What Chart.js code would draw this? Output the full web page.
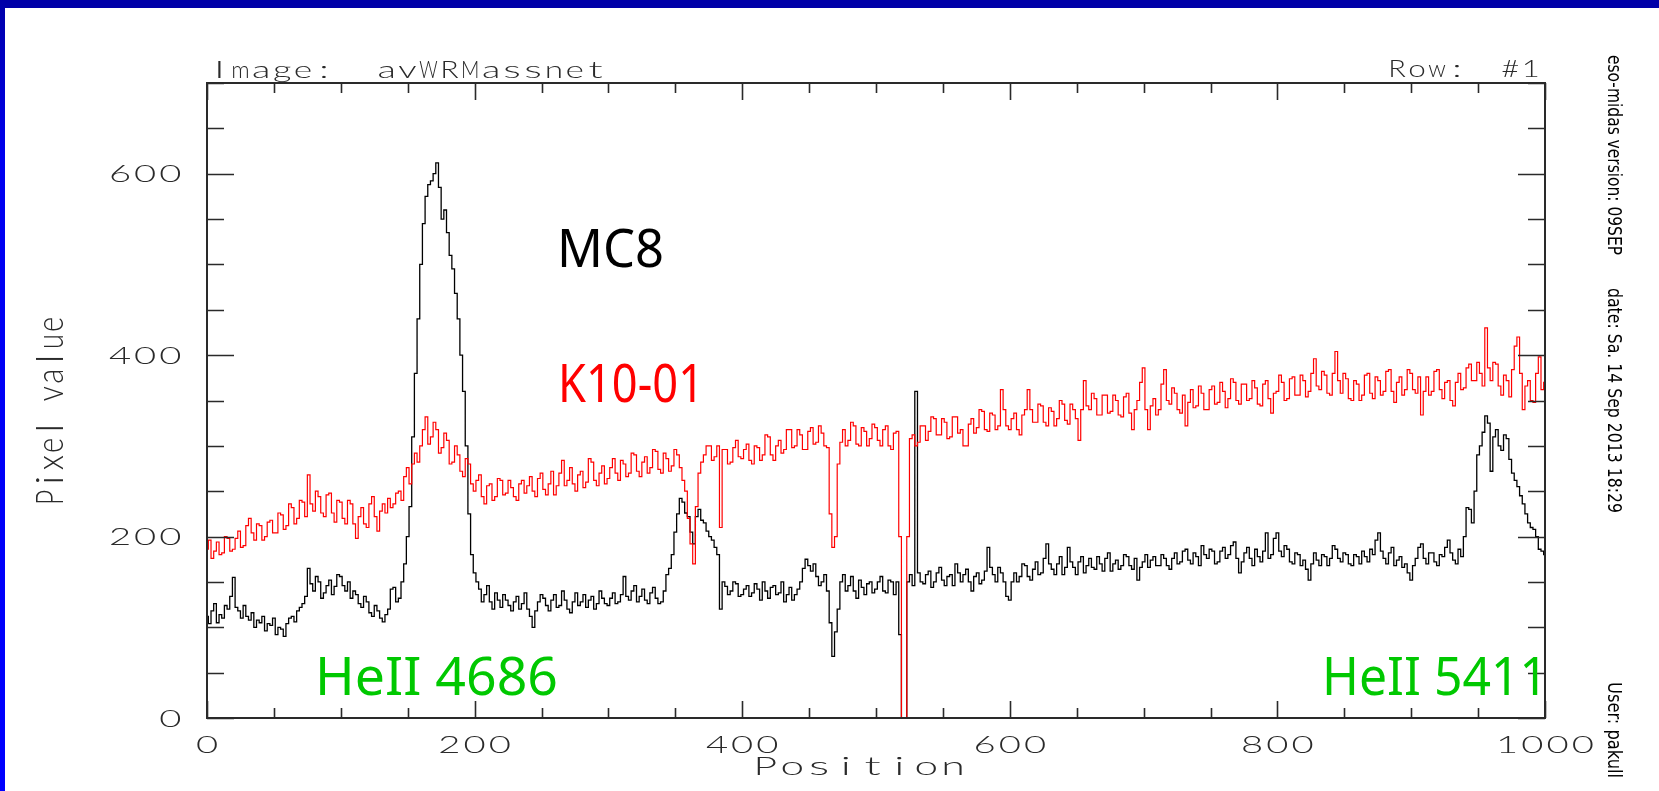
<!DOCTYPE html>
<html>
<head>
<meta charset="utf-8">
<title>avWRMassnet</title>
<script src="https://cdn.jsdelivr.net/npm/chart.js@4.4.1/dist/chart.umd.min.js"></script>
<style>
html, body { margin: 0; padding: 0; background: #fff; }
#wrap { position: relative; width: 1659px; height: 791px; overflow: hidden; background: #fff; }
#wrap canvas { position: absolute; left: 0; top: 0; }
#topband { position: absolute; left: 0; top: 0; width: 1659px; height: 8px; background: #0000a8; z-index: 2; }
#leftband { position: absolute; left: 0; top: 0; width: 5px; height: 791px; background: linear-gradient(#0000a8, #0000f0 20%, #0000ff); z-index: 2; }
</style>
</head>
<body>
<div id="wrap">
  <div id="topband"></div>
  <div id="leftband"></div>
  <canvas id="spectrum" width="1659" height="791"></canvas>
</div>
<script>
'use strict';

// one sample every 2 pixels along the row
var positionStep = 2;

var mc8Values = [
    112,104,118,126,105,114,110,124,120,134, 155,122,118,110,124,112,108,116,100,108, 105,112,96,104,102,110,92,100,98,90, 104,110,112,106,118,122,126,134,165,148, 140,156,150,132,138,146,152,136,145,158,
    156,146,140,150,132,140,136,126,122,134, 128,116,112,124,118,110,106,114,120,142, 144,128,132,150,170,200,233,310,380,440, 500,545,575,588,592,600,612,585,550,560, 535,510,495,468,440,400,360,300,225,180,
    160,150,142,128,136,146,128,120,138,130, 122,136,130,124,118,128,134,120,126,138, 120,112,100,118,128,136,132,124,118,130, 136,122,124,140,130,120,116,128,138,124, 128,136,122,130,134,120,126,140,132,126,
    124,132,138,126,128,136,156,134,130,140, 146,128,134,142,130,126,138,144,132,126, 128,140,158,165,180,205,225,242,238,226, 222,205,192,222,230,218,215,206,200,196, 188,180,120,150,145,136,140,150,148,134,
    136,142,146,134,138,148,142,130,150,140, 132,144,146,136,138,150,128,136,144,130, 136,142,150,165,175,168,162,170,156,146, 150,158,140,105,68,95,120,150,158,140, 146,156,140,132,152,144,136,148,150,138,
    142,150,156,140,138,152,150,136,150,92, 0,0,150,158,146,360,160,150,148,158, 162,144,150,160,166,152,146,156,158,146, 170,160,150,158,164,150,140,156,160,148, 152,162,188,166,158,150,166,160,150,134,
    130,150,160,150,156,170,168,156,152,164, 172,158,160,176,192,170,164,158,170,178, 158,166,188,172,166,158,172,178,160,168, 176,166,164,178,170,162,176,182,162,170, 174,164,168,180,178,168,164,176,152,166,
    172,180,166,174,178,168,168,180,176,168, 164,176,182,170,172,184,186,174,170,182, 178,168,190,180,176,186,184,170,172,184, 188,176,180,190,194,176,160,172,182,188, 176,168,186,178,172,184,204,176,180,198,
    204,184,178,190,186,172,170,182,180,168, 174,164,152,170,182,174,168,180,178,168, 176,190,186,176,172,182,180,170,168,180, 178,170,184,178,172,186,180,196,204,184, 176,170,182,188,168,174,178,166,170,160,
    152,168,176,188,192,176,170,182,182,172, 168,180,178,188,196,182,174,170,186,178, 200,232,230,215,250,290,300,315,333,325, 272,310,318,300,295,312,308,285,270,262, 255,245,236,225,215,210,208,200,186,184,
    180
];

var k1001Values = [
    186,196,176,184,194,180,182,200,198,184, 186,198,206,188,190,212,220,204,196,214, 212,196,200,216,218,204,204,226,224,208, 212,236,232,214,220,240,238,222,268,236, 228,250,244,226,222,246,248,226,216,240,
    238,220,214,240,236,214,198,222,232,214, 210,236,244,222,206,228,236,226,242,232, 236,248,250,240,266,276,258,280,292,282, 300,318,332,302,310,326,318,292,298,314, 306,280,282,300,290,272,266,286,280,258,
    250,262,268,244,236,256,258,240,244,264, 262,246,248,262,254,244,240,258,262,248, 256,266,250,244,264,270,252,246,258,272, 246,256,270,284,256,262,276,258,250,268, 272,254,260,286,282,262,256,270,278,258,
    264,276,286,270,262,284,280,266,270,292, 290,272,266,282,288,270,276,296,294,274, 270,292,286,272,278,296,290,276,262,250, 220,192,170,233,270,282,290,300,300,284, 288,300,210,296,296,280,282,298,306,288,
    286,296,302,284,280,300,298,284,290,312, 310,290,284,300,306,292,296,318,318,298, 300,318,312,296,296,316,320,302,304,322, 314,300,298,225,188,200,280,304,318,300, 306,326,322,302,300,320,316,300,308,324,
    320,306,300,318,322,300,296,314,316,200, -40,-40,200,308,312,300,304,322,322,306, 316,332,330,312,312,330,326,308,310,332, 332,314,318,300,300,324,330,314,320,340, 338,318,316,336,334,318,322,362,340,322,
    318,330,336,318,312,334,340,362,340,326, 326,346,344,326,322,342,338,322,330,350, 346,328,324,346,340,330,306,340,372,344, 340,358,352,334,334,356,356,336,338,356, 350,334,332,354,358,336,318,340,350,370,
    386,340,318,344,352,334,340,368,384,350, 346,364,358,340,336,356,322,348,362,342, 344,366,358,340,340,362,366,346,348,370, 360,342,352,374,370,350,346,368,368,350, 352,372,364,346,344,368,372,352,336,358,
    360,378,370,350,352,374,376,356,356,378, 372,354,360,380,396,366,362,382,378,358, 356,380,404,372,358,380,374,352,350,372, 368,350,356,378,380,358,352,376,372,356, 360,382,384,360,348,370,376,356,362,384,
    380,362,358,376,334,360,376,356,360,382, 384,362,352,370,372,350,344,370,380,362, 364,386,390,372,372,392,380,366,430,386, 372,392,390,366,356,378,372,354,384,410, 420,380,340,366,372,350,348,380,398,362,
    370
];

var xTickLabels = ['0', '200', '400', '600', '800', '1000'];
var yTickLabels = ['0', '200', '400', '600'];
var minorStep = 50;
var majorStep = 200;

var positions = [];
for (var p = 0; p <= 1000; p += positionStep) {
    positions.push(p);
}

function toPoints(values) {
    return values.map(function (v, i) {
        return { x: positions[i], y: v };
    });
}

// thin, wide lettering in the style of the MIDAS plot font
function midasText(ctx, str, x, y, cap, adv, sx, angle) {
    ctx.save();
    ctx.font = '300 ' + (cap / 0.72).toFixed(1) + 'px Lato';
    ctx.fillStyle = '#2a2a2a';
    ctx.textBaseline = 'alphabetic';
    ctx.translate(x, y);
    if (angle) ctx.rotate(angle);
    for (var i = 0; i < str.length; i++) {
        var ch = str[i];
        if (ch === ' ') continue;
        var w = ctx.measureText(ch).width;
        // keep wide capitals inside their cell
        var s = Math.min(sx, adv * 0.88 / w);
        ctx.save();
        ctx.translate(i * adv + adv / 2, 0);
        ctx.scale(s, 1);
        ctx.fillText(ch, -w / 2, 0);
        ctx.restore();
    }
    ctx.restore();
}

function fitText(ctx, str, x, y, font, width, color, angle) {
    ctx.save();
    ctx.font = font;
    ctx.fillStyle = color;
    ctx.textBaseline = 'alphabetic';
    ctx.translate(x, y);
    if (angle) ctx.rotate(angle);
    var w = ctx.measureText(str).width;
    ctx.scale(width / w, 1);
    ctx.fillText(str, 0, 0);
    ctx.restore();
}

var midasFrame = {
    id: 'midasFrame',
    afterDraw: function (chart) {
        var ctx = chart.ctx;
        var a = chart.chartArea;
        var xs = chart.scales.x;
        var ys = chart.scales.y;
        var v, px, py, len;

        ctx.save();
        ctx.strokeStyle = '#2a2a2a';
        ctx.lineWidth = 2;
        ctx.strokeRect(a.left, a.top, a.right - a.left, a.bottom - a.top);

        ctx.lineWidth = 1.6;
        ctx.beginPath();
        for (v = xs.min; v <= xs.max; v += minorStep) {
            px = Math.round(xs.getPixelForValue(v)) + 0.5;
            len = v % majorStep === 0 ? 17 : 10;
            ctx.moveTo(px, a.bottom);
            ctx.lineTo(px, a.bottom - len);
            ctx.moveTo(px, a.top);
            ctx.lineTo(px, a.top + len);
        }
        for (v = ys.min; v <= ys.max; v += minorStep) {
            py = Math.round(ys.getPixelForValue(v)) + 0.5;
            len = v % majorStep === 0 ? 27 : 17;
            ctx.moveTo(a.left, py);
            ctx.lineTo(a.left + len, py);
            ctx.moveTo(a.right, py);
            ctx.lineTo(a.right - len, py);
        }
        ctx.stroke();
        ctx.restore();

        // tick labels
        xTickLabels.forEach(function (lab) {
            var x = xs.getPixelForValue(Number(lab));
            midasText(ctx, lab, x - lab.length * 25.2 / 2, a.bottom + 35, 17, 25.2, 1.85, 0);
        });
        yTickLabels.forEach(function (lab) {
            var y = ys.getPixelForValue(Number(lab));
            midasText(ctx, lab, a.left - 24 - lab.length * 25.2, y + 8.5, 17, 25.2, 1.85, 0);
        });

        // axis titles and header
        midasText(ctx, 'Position', 752, 775, 18, 26.8, 1.9, 0);
        midasText(ctx, 'Pixel value', 63, 506, 27, 17.3, 1.1, -Math.PI / 2);
        midasText(ctx, 'Image:  avWRMassnet', 209, 78, 17, 20.9, 1.75, 0);
        midasText(ctx, 'Row:', 1387, 77, 17, 20, 1.75, 0);
        midasText(ctx, '#1', 1500, 77, 17, 20.5, 1.6, 0);

        // plot stamp on the right margin
        var stamp = '"Liberation Sans Narrow", "DejaVu Sans Condensed", sans-serif';
        fitText(ctx, 'eso-midas version: 09SEP', 1608, 55, '19px ' + stamp, 200, '#000', Math.PI / 2);
        fitText(ctx, 'date: Sa. 14 Sep 2013 18:29', 1608, 288, '19px ' + stamp, 225, '#000', Math.PI / 2);
        fitText(ctx, 'User: pakull', 1608, 682, '19px ' + stamp, 96, '#000', Math.PI / 2);

        // labels pasted on the slide
        var hand = '52px "Noto Sans", sans-serif';
        fitText(ctx, 'MC8', 557, 267, hand, 107, '#000', 0);
        fitText(ctx, 'K10-01', 558, 402, hand, 146, '#ff0000', 0);
        fitText(ctx, 'HeII 4686', 315, 695, hand, 243, '#00c800', 0);
        fitText(ctx, 'HeII 5411', 1322, 695, hand, 226, '#00c800', 0);
    }
};

var ctx = document.getElementById('spectrum');
var spectrumChart = new Chart(ctx, {
    type: 'line',
    data: {
        datasets: [{
            label: 'K10-01',
            data: toPoints(k1001Values),
            borderColor: '#ff0000',
            borderWidth: 1.2,
            pointRadius: 0,
            stepped: 'middle',
            fill: false
        }, {
            label: 'MC8',
            data: toPoints(mc8Values),
            borderColor: '#000000',
            borderWidth: 1.3,
            pointRadius: 0,
            stepped: 'middle',
            fill: false
        }]
    },
    options: {
        responsive: false,
        animation: false,
        devicePixelRatio: 1,
        layout: {
            padding: { left: 207, top: 83, right: 114, bottom: 73 }
        },
        plugins: {
            legend: { display: false },
            tooltip: { enabled: false }
        },
        scales: {
            x: { type: 'linear', min: 0, max: 1000, display: false },
            y: { type: 'linear', min: 0, max: 700, display: false }
        }
    },
    plugins: [midasFrame]
});
</script>
</body>
</html>
